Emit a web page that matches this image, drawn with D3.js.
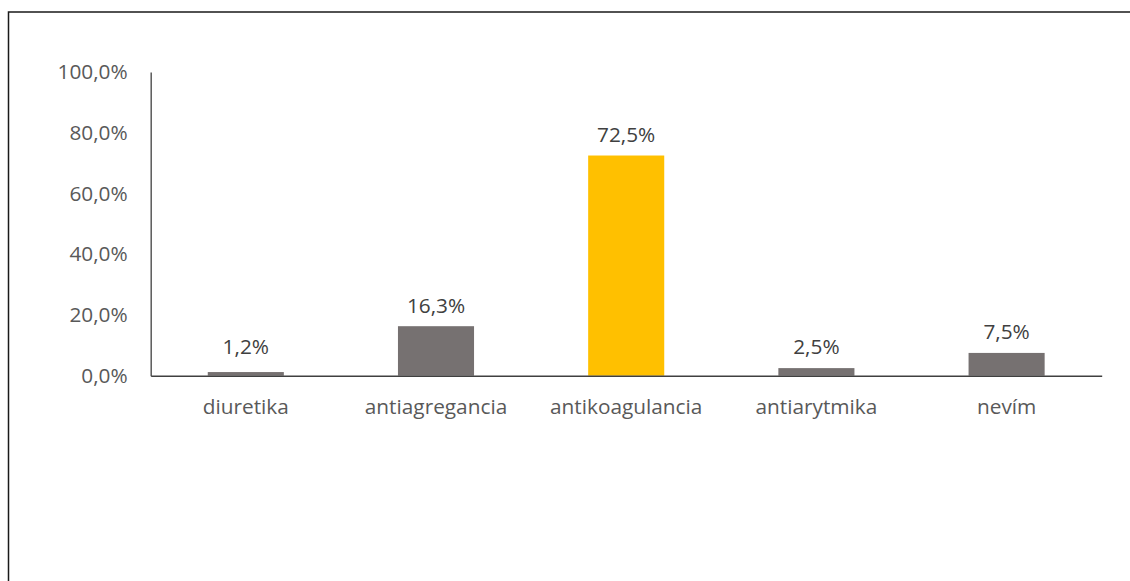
<!DOCTYPE html>
<html>
<head>
<meta charset="utf-8">
<script src="https://cdn.jsdelivr.net/npm/d3@7"></script>
<style>
  body { margin: 0; background: #fff; }
  svg { display: block; font-family: "Open Sans", Lato, sans-serif; }
</style>
</head>
<body>
<div id="chart"></div>
<script>
var width = 1130;
var height = 581;
var margin = {top: 72, left: 150.7, right: 28.3, bottom: 205.3};
var fontSize = "20.8px";

// data
var categories = ["diuretika", "antiagregancia", "antikoagulancia", "antiarytmika", "nevím"];
var values = [1.2, 16.3, 72.5, 2.5, 7.5];
var yTicks = [0, 20, 40, 60, 80, 100];
var highlight = "antikoagulancia";

var fmt = function(v){ return d3.format(".1f")(v).replace(".", ",") + "%"; };

var svg = d3.select("#chart")
  .append("svg")
  .attr("width", width)
  .attr("height", height);

// outer frame (runs off the right and bottom edge)
svg.append("rect")
  .attr("x", 8.5)
  .attr("y", 12)
  .attr("width", width + 20)
  .attr("height", height + 20)
  .attr("fill", "none")
  .attr("stroke", "#1a1a1a")
  .attr("stroke-width", 1.5);

var xScale = d3.scaleBand()
  .domain(categories)
  .range([margin.left, width - margin.right])
  .paddingInner(0.6)
  .paddingOuter(0.3);

var yScale = d3.scaleLinear()
  .domain([0, 100])
  .range([height - margin.bottom, margin.top]);

// bars
svg.selectAll("rect.bar")
  .data(values)
  .enter()
    .append("rect")
      .attr("class", "bar")
      .attr("x", function(d, i){ return xScale(categories[i]); })
      .attr("y", function(d){ return yScale(d); })
      .attr("width", xScale.bandwidth())
      .attr("height", function(d){ return yScale(0) - yScale(d); })
      .attr("fill", function(d, i){ return categories[i] === highlight ? "#FFC000" : "#767171"; });

// value labels
svg.selectAll("text.val")
  .data(values)
  .enter()
    .append("text")
      .attr("class", "val")
      .attr("x", function(d, i){ return xScale(categories[i]) + xScale.bandwidth() / 2; })
      .attr("y", function(d){ return Math.min(yScale(d) - 13.5, yScale(0) - 22); })
      .attr("text-anchor", "middle")
      .attr("font-size", fontSize)
      .attr("fill", "#404040")
      .text(function(d){ return fmt(d); });

// y axis
var yAxis = svg.append("g")
  .attr("transform", `translate(${margin.left},0)`)
  .call(d3.axisLeft(yScale).tickValues(yTicks).tickSize(0).tickPadding(23).tickFormat(fmt));
yAxis.select(".domain").attr("stroke", "#595959").attr("stroke-width", 1.5);
yAxis.selectAll("text")
  .attr("font-size", fontSize)
  .attr("font-family", "'Open Sans', Lato, sans-serif")
  .attr("fill", "#595959");

// x axis
var xAxis = svg.append("g")
  .attr("transform", `translate(0,${yScale(0)})`)
  .call(d3.axisBottom(xScale).tickSize(0).tickPadding(24));
xAxis.select(".domain").attr("stroke", "#404040").attr("stroke-width", 1.5);
xAxis.selectAll("text")
  .attr("font-size", fontSize)
  .attr("font-family", "'Open Sans', Lato, sans-serif")
  .attr("fill", "#595959");
</script>
</body>
</html>
